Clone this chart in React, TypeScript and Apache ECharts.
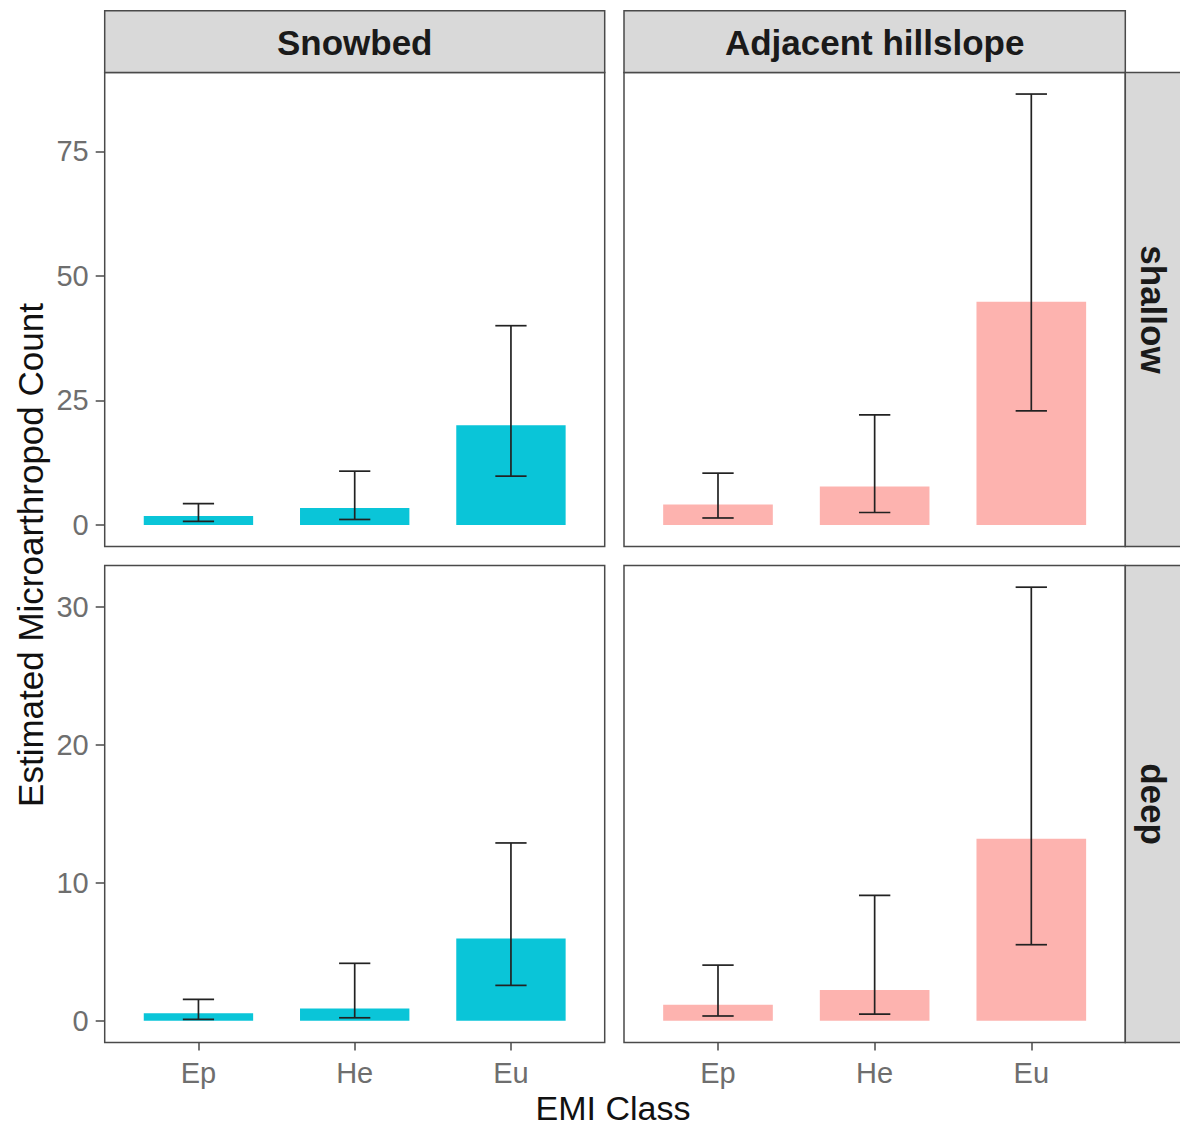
import React, { useEffect, useRef } from "react";
import * as echarts from "echarts";

const categories = ["Ep", "He", "Eu"];
const columns = ["Snowbed", "Adjacent hillslope"];
const rows = ["shallow", "deep"];

const snowbedShallowMean = [1.8, 3.4, 20.0];
const snowbedShallowLower = [0.7, 1.1, 9.8];
const snowbedShallowUpper = [4.3, 10.8, 40.0];

const hillShallowMean = [4.1, 7.7, 44.8];
const hillShallowLower = [1.4, 2.5, 22.9];
const hillShallowUpper = [10.4, 22.1, 86.5];

const snowbedDeepMean = [0.54, 0.9, 5.97];
const snowbedDeepLower = [0.1, 0.22, 2.57];
const snowbedDeepUpper = [1.56, 4.17, 12.9];

const hillDeepMean = [1.16, 2.23, 13.2];
const hillDeepLower = [0.35, 0.49, 5.52];
const hillDeepUpper = [4.04, 9.1, 31.45];

const shallowTicks = [0, 25, 50, 75];
const deepTicks = [0, 10, 20, 30];

const FONT = "'Liberation Sans', Arial, sans-serif";
const CYAN = "#0AC5D8";
const PINK = "#FDB3AF";

function rowsOf(mean: number[], lo: number[], hi: number[]) {
  return mean.map((m, i) => [i + 1, m, lo[i], hi[i]]);
}

export default function App() {
  const ref = useRef<HTMLDivElement>(null);
  useEffect(() => {
    if (!ref.current) return;
    const chart = echarts.init(ref.current, null, { renderer: "svg" });

    const panels = [
      { mean: snowbedShallowMean, lo: snowbedShallowLower, hi: snowbedShallowUpper, color: CYAN, row: 0, col: 0 },
      { mean: hillShallowMean, lo: hillShallowLower, hi: hillShallowUpper, color: PINK, row: 0, col: 1 },
      { mean: snowbedDeepMean, lo: snowbedDeepLower, hi: snowbedDeepUpper, color: CYAN, row: 1, col: 0 },
      { mean: hillDeepMean, lo: hillDeepLower, hi: hillDeepUpper, color: PINK, row: 1, col: 1 },
    ];

    const colLeft = [104.7, 624];
    const colWidth = [500, 501.3];
    const rowTop = [72.5, 565.5];
    const rowHeight = [474, 477];

    const shallowMax = Math.max(...hillShallowUpper, ...snowbedShallowUpper);
    const deepMax = Math.max(...hillDeepUpper, ...snowbedDeepUpper);
    const yRange = [
      [-shallowMax * 0.05, shallowMax * 1.05],
      [-deepMax * 0.05, deepMax * 1.05],
    ];
    const yTicks = [shallowTicks, deepTicks];

    const grids = panels.map((p) => ({
      left: colLeft[p.col],
      top: rowTop[p.row],
      width: colWidth[p.col],
      height: rowHeight[p.row],
      show: true,
      borderColor: "#4a4a4a",
      borderWidth: 1.5,
      backgroundColor: "#ffffff",
    }));

    const xAxes = panels.map((p, i) => ({
      type: "value",
      gridIndex: i,
      position: "bottom",
      min: 0.4,
      max: 3.6,
      axisLine: { show: false, onZero: false },
      splitLine: { show: false },
      axisTick: {
        show: p.row === 1,
        length: 8,
        customValues: [1, 2, 3],
        lineStyle: { color: "#4a4a4a", width: 1.5 },
      },
      axisLabel: {
        show: p.row === 1,
        customValues: [1, 2, 3],
        formatter: (v: number) => categories[Math.round(v) - 1] ?? "",
        fontSize: 29,
        color: "#6e6e6e",
        fontFamily: FONT,
        margin: 16,
      },
    }));

    const yAxes = panels.map((p, i) => ({
      type: "value",
      gridIndex: i,
      position: "left",
      min: yRange[p.row][0],
      max: yRange[p.row][1],
      axisLine: { show: false, onZero: false },
      splitLine: { show: false },
      axisTick: {
        show: p.col === 0,
        length: 9,
        customValues: yTicks[p.row],
        lineStyle: { color: "#4a4a4a", width: 1.5 },
      },
      axisLabel: {
        show: p.col === 0,
        customValues: yTicks[p.row],
        fontSize: 29,
        color: "#6e6e6e",
        fontFamily: FONT,
        margin: 16,
      },
    }));

    const series = panels.map((p, i) => ({
      type: "custom",
      xAxisIndex: i,
      yAxisIndex: i,
      data: rowsOf(p.mean, p.lo, p.hi),
      renderItem: (_params: any, api: any) => {
        const x = api.value(0);
        const m = api.value(1);
        const lo = api.value(2);
        const hi = api.value(3);
        const b0 = api.coord([x - 0.35, 0]);
        const b1 = api.coord([x + 0.35, m]);
        const eLo = api.coord([x, lo]);
        const eHi = api.coord([x, hi]);
        const cL = api.coord([x - 0.1, 0])[0];
        const cR = api.coord([x + 0.1, 0])[0];
        const ls = { stroke: "#222222", lineWidth: 1.7 };
        return {
          type: "group",
          children: [
            {
              type: "rect",
              shape: { x: b0[0], y: b1[1], width: b1[0] - b0[0], height: b0[1] - b1[1] },
              style: { fill: p.color },
            },
            { type: "line", shape: { x1: eLo[0], y1: eLo[1], x2: eHi[0], y2: eHi[1] }, style: ls },
            { type: "line", shape: { x1: cL, y1: eLo[1], x2: cR, y2: eLo[1] }, style: ls },
            { type: "line", shape: { x1: cL, y1: eHi[1], x2: cR, y2: eHi[1] }, style: ls },
          ],
        };
      },
    }));

    const stripStyle = { fill: "#D9D9D9", stroke: "#4a4a4a", lineWidth: 1.5 };
    const graphics: any[] = [];
    columns.forEach((name, c) => {
      graphics.push({
        type: "rect",
        shape: { x: colLeft[c], y: 10.7, width: colWidth[c], height: rowTop[0] - 10.7 },
        style: stripStyle,
      });
      graphics.push({
        type: "text",
        x: colLeft[c] + colWidth[c] / 2,
        y: 42,
        style: {
          text: name,
          fontSize: 35,
          fontWeight: "bold",
          fontFamily: FONT,
          fill: "#1a1a1a",
          align: "center",
          verticalAlign: "middle",
        },
      });
    });
    rows.forEach((name, r) => {
      graphics.push({
        type: "rect",
        shape: { x: 1125.3, y: rowTop[r], width: 70, height: rowHeight[r] },
        style: stripStyle,
      });
      graphics.push({
        type: "text",
        x: 1153,
        y: rowTop[r] + rowHeight[r] / 2,
        rotation: -Math.PI / 2,
        style: {
          text: name,
          fontSize: 35,
          fontWeight: "bold",
          fontFamily: FONT,
          fill: "#1a1a1a",
          align: "center",
          verticalAlign: "middle",
        },
      });
    });
    graphics.push({
      type: "text",
      x: 30,
      y: 555,
      rotation: Math.PI / 2,
      style: {
        text: "Estimated Microarthropod Count",
        fontSize: 35,
        fontFamily: FONT,
        fill: "#111111",
        align: "center",
        verticalAlign: "middle",
      },
    });
    graphics.push({
      type: "text",
      x: 613,
      y: 1108,
      style: {
        text: "EMI Class",
        fontSize: 34,
        fontFamily: FONT,
        fill: "#111111",
        align: "center",
        verticalAlign: "middle",
      },
    });

    chart.setOption({
      animation: false,
      backgroundColor: "#ffffff",
      grid: grids,
      xAxis: xAxes,
      yAxis: yAxes,
      series,
      graphic: graphics,
    });
    return () => chart.dispose();
  }, []);
  return (
    <div
      ref={ref}
      style={{ position: "absolute", left: 0, top: 0, width: 1180, height: 1127 }}
    />
  );
}
